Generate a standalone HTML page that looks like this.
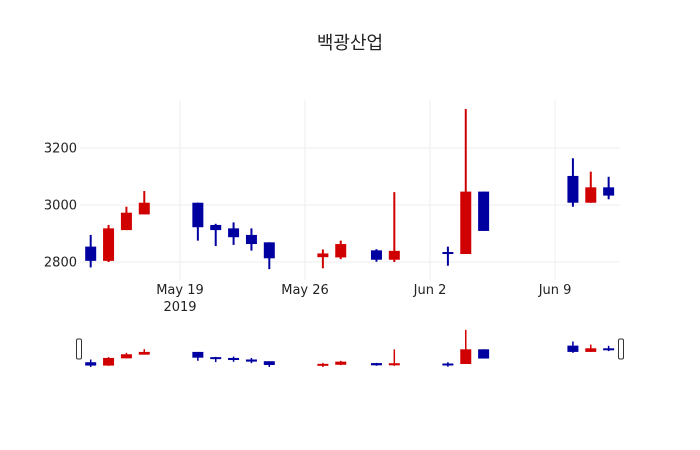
<!DOCTYPE html>
<html><head><meta charset="utf-8"><style>
body{margin:0;background:#fff}
svg{display:block;font-family:"DejaVu Sans","Liberation Sans","Noto Sans CJK KR",sans-serif}
</style></head><body>
<svg id="c" width="700" height="450">
<text x="350" y="49" text-anchor="middle" font-size="18" fill="#222" font-family="'Liberation Sans','Noto Sans CJK KR',sans-serif">백광산업</text>
<g id="grid"></g><g id="marks"></g><g id="slider"></g>
</svg>
<script>
const dayOffsets=[0,1,2,3,6,7,8,9,10,13,14,16,17,20,21,22,27,28,29];
const opens=[2854,2804,2912,2967,3008,2930,2918,2895,2869,2817,2816,2841,2808,2835,2828,3047,3102,3008,3062];
const highs=[2895,2930,2994,3049,3008,2934,2939,2918,2869,2844,2875,2845,3045,2854,3337,3047,3164,3117,3099];
const lows=[2781,2800,2912,2967,2875,2856,2860,2840,2775,2778,2810,2801,2800,2787,2828,2909,2994,3008,3020];
const closes=[2804,2918,2973,3008,2922,2912,2887,2863,2813,2830,2863,2808,2839,2828,3047,2909,3008,3062,3033];
const yTicks=[2800,3000,3200];
const xTickDays=[5,12,19,26];
const xTickLabels=["May 19","May 26","Jun 2","Jun 9"];
const NS="http://www.w3.org/2000/svg";
const X0=80,X1=620,Y0=100,Y1=280;
const x=d=>90.7+d*17.86;
const y=v=>205-(v-3000)*0.285;
const ys=v=>349.3-(v-3047)*0.067;
function mk(t,a,p){const e=document.createElementNS(NS,t);for(const k in a)e.setAttribute(k,a[k]);p.appendChild(e);return e;}
const grid=document.getElementById('grid'),marks=document.getElementById('marks'),sl=document.getElementById('slider');
yTicks.forEach(v=>{
 const l=mk('line',{x1:X0,x2:X1,y1:y(v),y2:y(v),stroke:'#eee','stroke-width':1},grid);
 
 
 const t=mk('text',{x:77,y:y(v)+4.5,'text-anchor':'end','font-size':13,fill:'#222'},grid);
 t.textContent=v;
 
 
});
xTickDays.forEach((d,i)=>{
 const l=mk('line',{x1:x(d),x2:x(d),y1:Y0,y2:Y1,stroke:'#eee','stroke-width':1},grid);
 
 
 const t=mk('text',{x:x(d),y:294,'text-anchor':'middle','font-size':13,fill:'#222'},grid);
 t.textContent=xTickLabels[i];
 
 
});
const yr=mk('text',{x:x(5),y:311,'text-anchor':'middle','font-size':13,fill:'#222'},grid);
yr.textContent='2019';


const clipDef=mk('defs',{},sl);
const cp=mk('clipPath',{id:'sc'},clipDef);
mk('rect',{x:X0,y:328,width:X1-X0,height:39},cp);
const sg=mk('g',{'clip-path':'url(#sc)'},sl);
dayOffsets.forEach((d,i)=>{
 const up=closes[i]>=opens[i],col=up?'#d10000':'#0000a0';
 const cx=x(d);
 const g=mk('g',{},marks);
 
 
 mk('line',{x1:cx,x2:cx,y1:y(highs[i]),y2:y(lows[i]),stroke:col,'stroke-width':2},g);
 const t=Math.max(opens[i],closes[i]),b=Math.min(opens[i],closes[i]);
 mk('rect',{x:cx-5.5,y:y(t),width:11,height:Math.max(y(b)-y(t),2),fill:col},g);
 const s=mk('g',{},sg);
 
 
 mk('line',{x1:cx,x2:cx,y1:ys(highs[i]),y2:ys(lows[i]),stroke:col,'stroke-width':1.5},s);
 mk('rect',{x:cx-5.5,y:ys(t),width:11,height:Math.max(ys(b)-ys(t),2),fill:col},s);
});
[X0-1,X1+1].forEach((hx,i)=>{
 const h=mk('rect',{x:hx-2.5,y:339,width:5,height:20,rx:1.5,fill:'#fff',stroke:'#333','stroke-width':1},sl);
 
 
});
</script>
</body></html>
